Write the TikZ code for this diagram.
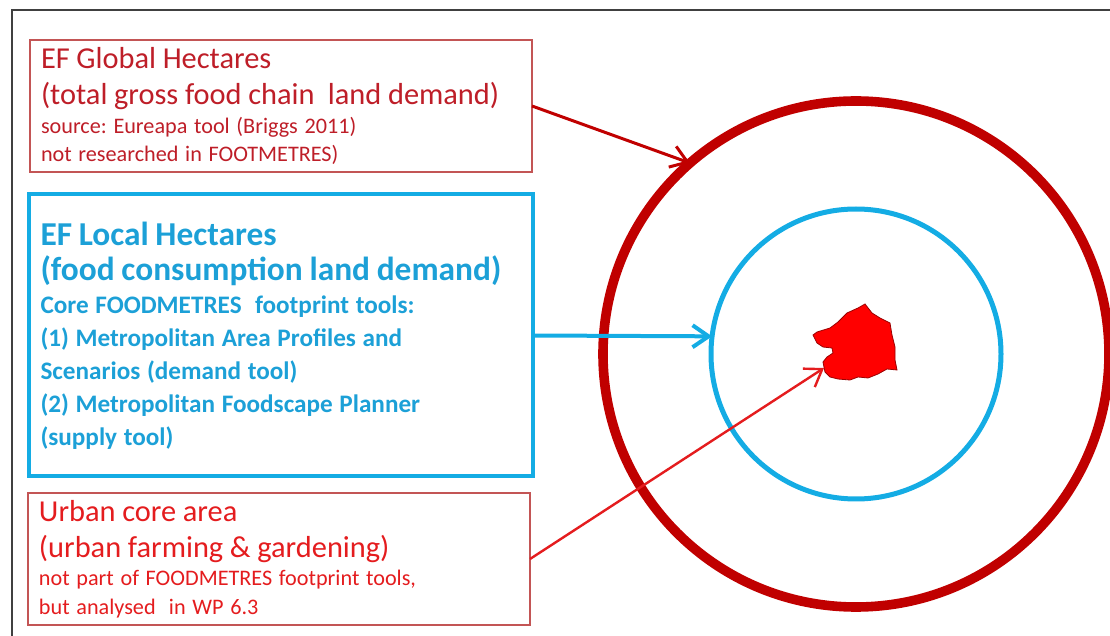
\documentclass[tikz,border=0pt]{standalone}
\usepackage{fontspec}
\setmainfont{Carlito}
\usetikzlibrary{arrows.meta,positioning}
\definecolor{ringred}{RGB}{192,0,0}
\definecolor{globred}{RGB}{190,30,40}
\definecolor{boxred}{RGB}{195,85,85}
\definecolor{corered}{RGB}{228,28,30}
\definecolor{skyblue}{RGB}{20,172,228}
\definecolor{skytext}{RGB}{28,160,215}
\tikzset{>={Straight Barb[length=8pt,width=11pt]}}
\newcommand{\bigline}{\fontsize{15.2}{18.2}\selectfont}
\newcommand{\smallline}{\fontsize{11.1}{14.2}\selectfont}
\frenchspacing

\begin{document}
\begin{tikzpicture}[x=0.5pt,y=-0.5pt,
    thinbox/.style={draw=boxred,line width=0.6pt,inner sep=0pt,outer sep=0pt,
      minimum width=251pt,minimum height=66pt,text width=240pt,align=left},
    thickbox/.style={draw=skyblue,line width=2pt,inner sep=0pt,outer sep=0pt,
      minimum width=252pt,minimum height=141pt,text width=240pt,align=left,
      text=skytext,font=\bfseries},
    ring/.style={circle,draw,inner sep=0pt,outer sep=0pt}]
  \pgfmathsetmacro{\cx}{856};
  \pgfmathsetmacro{\cy}{354};
  \useasboundingbox (0,0) rectangle (1110,636);
  % frame (only top and left edges show)
  \draw[black!75,line width=1pt] (12,636) -- (12,10) -- (1110,10);

  % rings
  \node[ring,draw=ringred,line width=4.8pt,minimum size=253pt] (outer) at (\cx,\cy) {};
  \node[ring,draw=skyblue,line width=2.5pt,minimum size=145pt] (inner) at (\cx,\cy) {};

  % urban core
  \draw[fill=red,draw=ringred!80!black,line width=0.4pt]
    (813,335) -- (817,332) -- (830,328) -- (838,322) -- (847,313) -- (858,308)
    -- (865,304) -- (872,313) -- (880,318) -- (890,323) -- (892,335) -- (895,347)
    -- (895,360) -- (897,370) -- (887,369) -- (878,374) -- (868,378) -- (858,377)
    -- (850,380) -- (838,379) -- (830,377) -- (825,372) -- (823,362) -- (827,357)
    -- (833,353) -- (832,348) -- (823,347) -- (817,343) -- cycle;
  \coordinate (core) at (824,368);

  % boxes
  \node[thinbox,text=globred] (global) at (281,106) {%
    {\bigline EF Global Hectares\\(total gross food chain~ land demand)\par}
    {\smallline source: Eureapa tool (Briggs 2011)\\not researched in FOOTMETRES)\par}};
  \node[thickbox] (local) at (280.5,335.5) {%
    {\fontsize{16.7}{17.5}\selectfont EF Local Hectares\\(food consumption land demand)\par}
    {\fontsize{12.6}{16.5}\selectfont Core FOODMETRES~ footprint tools:\\
     (1) Metropolitan Area Profiles and\\Scenarios (demand tool)\\
     (2) Metropolitan Foodscape Planner\\(supply tool)\par}};
  \node[thinbox,text=corered] (urban) at (279,559) {%
    {\bigline Urban core area\\(urban farming \& gardening)\par}
    {\smallline not part of FOODMETRES footprint tools,\\but analysed~ in WP 6.3\par}};

  % pointers
  \draw[->,ringred,line width=1.5pt] (global.east) -- (outer.131);
  \draw[->,skyblue,line width=2pt] (local.east) -- (inner.173);
  \draw[->,corered,line width=1.2pt] (urban.east) -- (core);
\end{tikzpicture}
\end{document}
